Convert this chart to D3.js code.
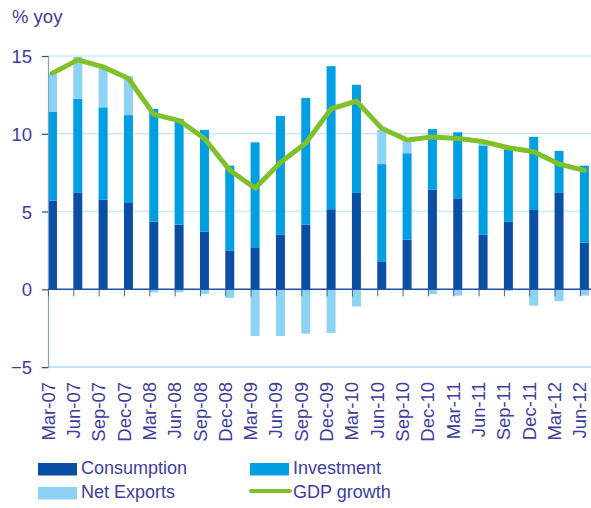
<!DOCTYPE html>
<html>
<head>
<meta charset="utf-8">
<script src="https://cdn.jsdelivr.net/npm/d3@7"></script>
<style>
  body { margin: 0; background: #fff; }
  svg text { font-family: "Liberation Sans", Arial, sans-serif; fill: #3d3d9c; }
</style>
</head>
<body>
<div id="js-svg-container"></div>
<script>
let quarters = ['Mar-07', 'Jun-07', 'Sep-07', 'Dec-07', 'Mar-08', 'Jun-08', 'Sep-08', 'Dec-08',
    'Mar-09', 'Jun-09', 'Sep-09', 'Dec-09', 'Mar-10', 'Jun-10', 'Sep-10', 'Dec-10',
    'Mar-11', 'Jun-11', 'Sep-11', 'Dec-11', 'Mar-12', 'Jun-12'];
let consumption = [5.7, 6.2, 5.75, 5.55, 4.35, 4.15, 3.7, 2.5, 2.7, 3.5, 4.15,
    5.15, 6.2, 1.8, 3.2, 6.4, 5.85, 3.5, 4.35, 5.1, 6.2, 3.0];
let investment = [5.7, 6.05, 5.95, 5.65, 7.25, 6.8, 6.55, 5.45, 6.75, 7.65, 8.15,
    9.2, 6.95, 6.25, 5.55, 3.9, 4.25, 5.75, 4.65, 4.7, 2.7, 4.95];
let netExports = [2.5, 2.7, 2.5, 2.5, -0.2, -0.2, -0.3, -0.55, -3.0, -3.0, -2.85,
    -2.8, -1.1, 2.2, 0.9, -0.3, -0.4, 0.15, -0.1, -1.05, -0.75, -0.4];
let gdpGrowth = [13.9, 14.75, 14.3, 13.55, 11.25, 10.85, 9.7, 7.65, 6.5, 8.15, 9.4,
    11.6, 12.1, 10.35, 9.6, 9.8, 9.7, 9.5, 9.1, 8.85, 8.05, 7.65];
let yTicks = [-5, 0, 5, 10, 15];

let colors = {
    consumption: '#0a4fa3',
    investment: '#009fe3',
    netExports: '#8cd2f4',
    gdp: '#80c12a'
};

let width = 591, height = 508;
let axisLeft = 48, plotRight = 591;

let rows = quarters.map((q, i) => ({
    q: q,
    consumption: consumption[i],
    investment: investment[i],
    netExports: netExports[i],
    gdp: gdpGrowth[i]
}));

let x = d3.scaleBand()
    .domain(quarters)
    .range([39.8, 39.8 + 22 * 25.33])
    .paddingInner(0.645)
    .paddingOuter(0.3225);

let y = d3.scaleLinear()
    .domain([-5, 15])
    .range([367.1, 56]);

let svg = d3.select('#js-svg-container')
    .append('svg')
    .attr('width', width)
    .attr('height', height);

// gridlines
svg.append('g')
    .selectAll('line')
    .data(yTicks.filter(t => t !== 0))
    .enter()
    .append('line')
    .attr('x1', axisLeft).attr('x2', plotRight)
    .attr('y1', d => y(d)).attr('y2', d => y(d))
    .attr('stroke', d => d === -5 ? '#a9def6' : '#c9ebf9')
    .attr('stroke-width', 1.5);

// stacked bars
let stack = d3.stack()
    .keys(['consumption', 'investment', 'netExports'])
    .offset(d3.stackOffsetDiverging);

svg.append('g')
    .selectAll('g')
    .data(stack(rows))
    .enter()
    .append('g')
    .attr('fill', s => colors[s.key])
    .selectAll('rect')
    .data(s => s)
    .enter()
    .append('rect')
    .attr('x', d => x(d.data.q))
    .attr('width', x.bandwidth())
    .attr('y', d => y(Math.max(d[0], d[1])))
    .attr('height', d => Math.abs(y(d[0]) - y(d[1])));

// y axis
let yAxis = d3.axisLeft(y)
    .tickValues(yTicks)
    .tickSize(6)
    .tickPadding(10)
    .tickFormat(d3.format('d'));

let gy = svg.append('g')
    .attr('transform', 'translate(' + axisLeft + ',0)')
    .call(yAxis);
gy.select('.domain').attr('stroke', '#7f9fd0').attr('stroke-width', 1.2);
gy.selectAll('.tick line').attr('stroke', '#1f4f9f').attr('stroke-width', 1.2);
gy.selectAll('.tick text')
    .attr('font-size', 18.5)
    .attr('fill', '#3d3d9c')
    .attr('dy', '0.36em');

// zero line
svg.append('line')
    .attr('x1', axisLeft).attr('x2', plotRight)
    .attr('y1', y(0)).attr('y2', y(0))
    .attr('stroke', '#1f4f9f')
    .attr('stroke-width', 1.5);

// x ticks and labels
let xTicks = svg.append('g');
xTicks.selectAll('line')
    .data(quarters)
    .enter()
    .append('line')
    .attr('x1', d => x(d) + 0.5).attr('x2', d => x(d) + 0.5)
    .attr('y1', y(0)).attr('y2', y(0) + 7)
    .attr('stroke', '#3f66ad')
    .attr('stroke-width', 1);

xTicks.selectAll('text')
    .data(quarters)
    .enter()
    .append('text')
    .attr('transform', d => 'translate(' + (x(d) + x.bandwidth() / 2 - 3.5) + ',382) rotate(-90)')
    .attr('text-anchor', 'end')
    .attr('dy', '0.3em')
    .attr('font-size', 18.5)
    .text(d => d);

// GDP line
let line = d3.line()
    .x(d => x(d.q) + x.bandwidth() / 2)
    .y(d => y(d.gdp));

svg.append('path')
    .datum(rows)
    .attr('d', line)
    .attr('fill', 'none')
    .attr('stroke', colors.gdp)
    .attr('stroke-width', 5)
    .attr('stroke-linejoin', 'round')
    .attr('stroke-linecap', 'round');

// unit label
svg.append('text')
    .attr('x', 12)
    .attr('y', 23)
    .attr('font-size', 18.5)
    .text('% yoy');

// legend
let legendItems = [
    { label: 'Consumption', key: 'consumption', type: 'rect', x: 38, y: 463 },
    { label: 'Investment', key: 'investment', type: 'rect', x: 250, y: 463 },
    { label: 'Net Exports', key: 'netExports', type: 'rect', x: 38, y: 487 },
    { label: 'GDP growth', key: 'gdp', type: 'line', x: 250, y: 487 }
];

let legend = svg.append('g')
    .selectAll('g')
    .data(legendItems)
    .enter()
    .append('g')
    .attr('transform', d => 'translate(' + d.x + ',' + d.y + ')');

legend.filter(d => d.type === 'rect')
    .append('rect')
    .attr('width', 39)
    .attr('height', 12.5)
    .attr('fill', d => colors[d.key]);

legend.filter(d => d.type === 'line')
    .append('line')
    .attr('x1', 1).attr('x2', 40)
    .attr('y1', 4).attr('y2', 4)
    .attr('stroke', d => colors[d.key])
    .attr('stroke-width', 4)
    .attr('stroke-linecap', 'round');

legend.append('text')
    .attr('x', 43)
    .attr('y', 10.5)
    .attr('font-size', 18)
    .text(d => d.label);
</script>
</body>
</html>
